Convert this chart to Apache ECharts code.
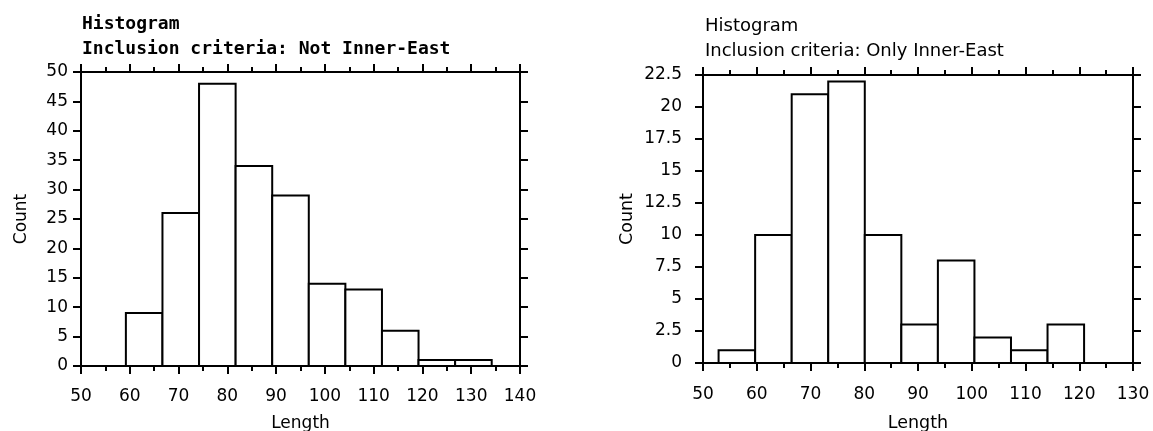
<!DOCTYPE html>
<html>
<head>
<meta charset="utf-8">
<script src="https://cdn.jsdelivr.net/npm/echarts@6/dist/echarts.min.js"></script>
<style>
  html, body { margin: 0; padding: 0; background: #fff; }
  #chart { width: 1153px; height: 431px; }
</style>
</head>
<body>
<div id="chart"></div>
<script>
// bin edges and counts
const leftEdges = [59.2, 66.7, 74.2, 81.7, 89.2, 96.7, 104.2, 111.7, 119.2, 126.7, 134.2]
const leftCounts = [9, 26, 48, 34, 29, 14, 13, 6, 1, 1]
const rightEdges = [52.9, 59.7, 66.5, 73.3, 80.1, 86.9, 93.7, 100.5, 107.3, 114.1, 120.9]
const rightCounts = [1, 10, 21, 22, 10, 3, 8, 2, 1, 3]

const leftTitle = ['Histogram', 'Inclusion criteria: Not Inner-East']
const rightTitle = ['Histogram', 'Inclusion criteria: Only Inner-East']

function toBins(edges, counts) {
  return counts.map((c, i) => [edges[i], edges[i + 1], c])
}

function renderBin(params, api) {
  const a = api.coord([api.value(0), 0])
  const b = api.coord([api.value(1), api.value(2)])
  return {
    type: 'rect',
    shape: { x: a[0], y: b[1], width: b[0] - a[0], height: a[1] - b[1] },
    style: { fill: '#fff', stroke: '#000', lineWidth: 2 }
  }
}

const font = 'DejaVu Sans'
const axisLine = { show: true, onZero: false, lineStyle: { color: '#000', width: 2 } }
const tickStyle = { color: '#000', width: 2 }

// o: label margin, name gap, font sizes per chart
function xAxes(grid, min, max, o) {
  const base = {
    type: 'value', gridIndex: grid, min: min, max: max, interval: 10,
    axisLine: axisLine,
    splitLine: { show: false },
    axisTick: { show: true, length: 8, lineStyle: tickStyle },
    minorTick: { show: true, splitNumber: 2, length: 5, lineStyle: tickStyle }
  }
  return [
    Object.assign({}, base, {
      position: 'bottom',
      name: 'Length', nameLocation: 'middle', nameGap: o.nameGap,
      nameTextStyle: { fontFamily: font, fontSize: o.nameSize, color: '#000' },
      axisLabel: { fontFamily: font, fontSize: o.labelSize, color: '#000', margin: o.margin }
    }),
    Object.assign({}, base, { position: 'top', axisLabel: { show: false } })
  ]
}

function yAxes(grid, max, interval, o) {
  const base = {
    type: 'value', gridIndex: grid, min: 0, max: max, interval: interval,
    axisLine: axisLine,
    splitLine: { show: false },
    axisTick: { show: true, length: 8, lineStyle: tickStyle }
  }
  return [
    Object.assign({}, base, {
      position: 'left',
      name: 'Count', nameLocation: 'middle', nameRotate: 90, nameGap: o.nameGap,
      nameTextStyle: { fontFamily: font, fontSize: o.nameSize, color: '#000' },
      axisLabel: { fontFamily: font, fontSize: o.labelSize, color: '#000', margin: o.margin }
    }),
    Object.assign({}, base, { position: 'right', axisLabel: { show: false } })
  ]
}

const chart = echarts.init(document.getElementById('chart'))
chart.setOption({
  animation: false,
  backgroundColor: '#fff',
  title: [
    {
      text: leftTitle.join('\n'), left: 77, top: 7,
      textStyle: { fontFamily: 'DejaVu Sans Mono', fontSize: 18, fontWeight: 'bold', color: '#000', lineHeight: 25 }
    },
    {
      text: rightTitle.join('\n'), left: 700, top: 9,
      textStyle: { fontFamily: font, fontSize: 18, fontWeight: 'normal', color: '#000', lineHeight: 25 }
    }
  ],
  grid: [
    { left: 81, right: 633, top: 72, bottom: 65, outerBoundsMode: 'none' },
    { left: 703, right: 20, top: 75, bottom: 68, outerBoundsMode: 'none' }
  ],
  xAxis: xAxes(0, 50, 140, { margin: 22, nameGap: 49, nameSize: 17, labelSize: 17 })
    .concat(xAxes(1, 50, 130, { margin: 23, nameGap: 51, nameSize: 17.5, labelSize: 17 })),
  yAxis: yAxes(0, 50, 5, { margin: 13, nameGap: 51, nameSize: 17, labelSize: 17 })
    .concat(yAxes(1, 22.5, 2.5, { margin: 21, nameGap: 67, nameSize: 17.5, labelSize: 17 })),
  series: [
    {
      type: 'custom', xAxisIndex: 0, yAxisIndex: 0,
      renderItem: renderBin, encode: { x: [0, 1], y: 2 },
      data: toBins(leftEdges, leftCounts)
    },
    {
      type: 'custom', xAxisIndex: 2, yAxisIndex: 2,
      renderItem: renderBin, encode: { x: [0, 1], y: 2 },
      data: toBins(rightEdges, rightCounts)
    }
  ]
})
</script>
</body>
</html>
